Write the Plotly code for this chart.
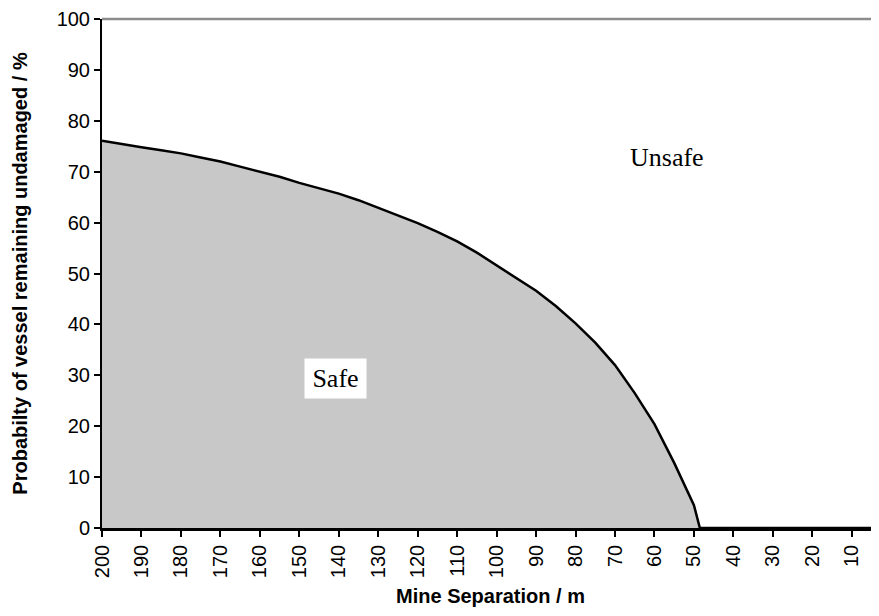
import plotly.graph_objects as go

# Mine separation (m) and probability of vessel remaining undamaged (%)
separation = [200, 195, 190, 185, 180, 175, 170, 165, 160, 155, 150, 145, 140, 135, 130,
              125, 120, 115, 110, 105, 100, 95, 90, 85, 80, 75, 70, 65, 60, 55, 52, 50, 48.5,
              45, 40, 35, 30, 25, 20, 15, 10, 5, 1]
probability = [76.1, 75.4, 74.8, 74.2, 73.6, 72.8, 72.0, 71.0, 70.0, 69.0, 67.8, 66.8, 65.7, 64.4, 62.9,
               61.4, 59.9, 58.2, 56.3, 54.1, 51.6, 49.2, 46.6, 43.6, 40.2, 36.4, 32.0, 26.5, 20.4, 12.8, 8.0, 4.5, 0.0,
               0, 0, 0, 0, 0, 0, 0, 0, 0, 0]

x_ticks = [200, 190, 180, 170, 160, 150, 140, 130, 120, 110, 100, 90, 80, 70, 60, 50, 40, 30, 20, 10]
y_ticks = [0, 10, 20, 30, 40, 50, 60, 70, 80, 90, 100]

region_labels = ["Unsafe", "Safe"]
region_x = [56.7, 140.8]
region_y = [72.8, 29.4]

fig = go.Figure()
fig.add_trace(go.Scatter(
    x=separation, y=probability, mode="lines",
    line=dict(color="black", width=2.5),
    fill="tozeroy", fillcolor="#C8C8C8",
    showlegend=False, hoverinfo="skip",
))

serif = "Liberation Serif, Times New Roman, serif"
fig.add_annotation(x=region_x[0], y=region_y[0], text=region_labels[0], showarrow=False,
                   font=dict(family=serif, size=26, color="black"))
fig.add_annotation(x=region_x[1], y=region_y[1], text=region_labels[1], showarrow=False,
                   font=dict(family=serif, size=26, color="black"),
                   bgcolor="white", width=61, height=39, borderpad=0)

# top frame line (grey)
fig.add_shape(type="line", xref="paper", yref="paper", x0=0, x1=1, y0=1, y1=1,
              line=dict(color="#8C8C8C", width=2.5))

sans = "Arial, Liberation Sans, sans-serif"
axis_font = dict(family=sans, size=20, color="black")
title_font = dict(family=sans, size=20, color="black")
fig.update_layout(
    width=871, height=608,
    margin=dict(l=94, r=0, t=6, b=88),
    paper_bgcolor="white", plot_bgcolor="white",
    font=axis_font,
    xaxis=dict(
        range=[200, 3.1], tickmode="array", tickvals=x_ticks,
        ticktext=[str(v) for v in x_ticks], tickangle=-90,
        showgrid=False, zeroline=False,
        showline=True, linecolor="black", linewidth=2.5,
        ticks="outside", ticklen=6, tickwidth=1.5, tickcolor="black",
        tickfont=axis_font, ticklabeloverflow="allow",
        title=dict(text="<b>Mine Separation / m</b>", font=title_font, standoff=12),
    ),
    yaxis=dict(
        range=[0, 100], tickmode="array", tickvals=y_ticks,
        showgrid=False, zeroline=False,
        showline=True, linecolor="black", linewidth=2,
        ticks="outside", ticklen=6, tickwidth=1.5, tickcolor="black",
        tickfont=axis_font, ticklabeloverflow="allow",
        title=dict(text="<b>Probabilty of vessel remaining undamaged / %</b>",
                   font=title_font, standoff=24),
    ),
)

fig.write_html("out.html")
